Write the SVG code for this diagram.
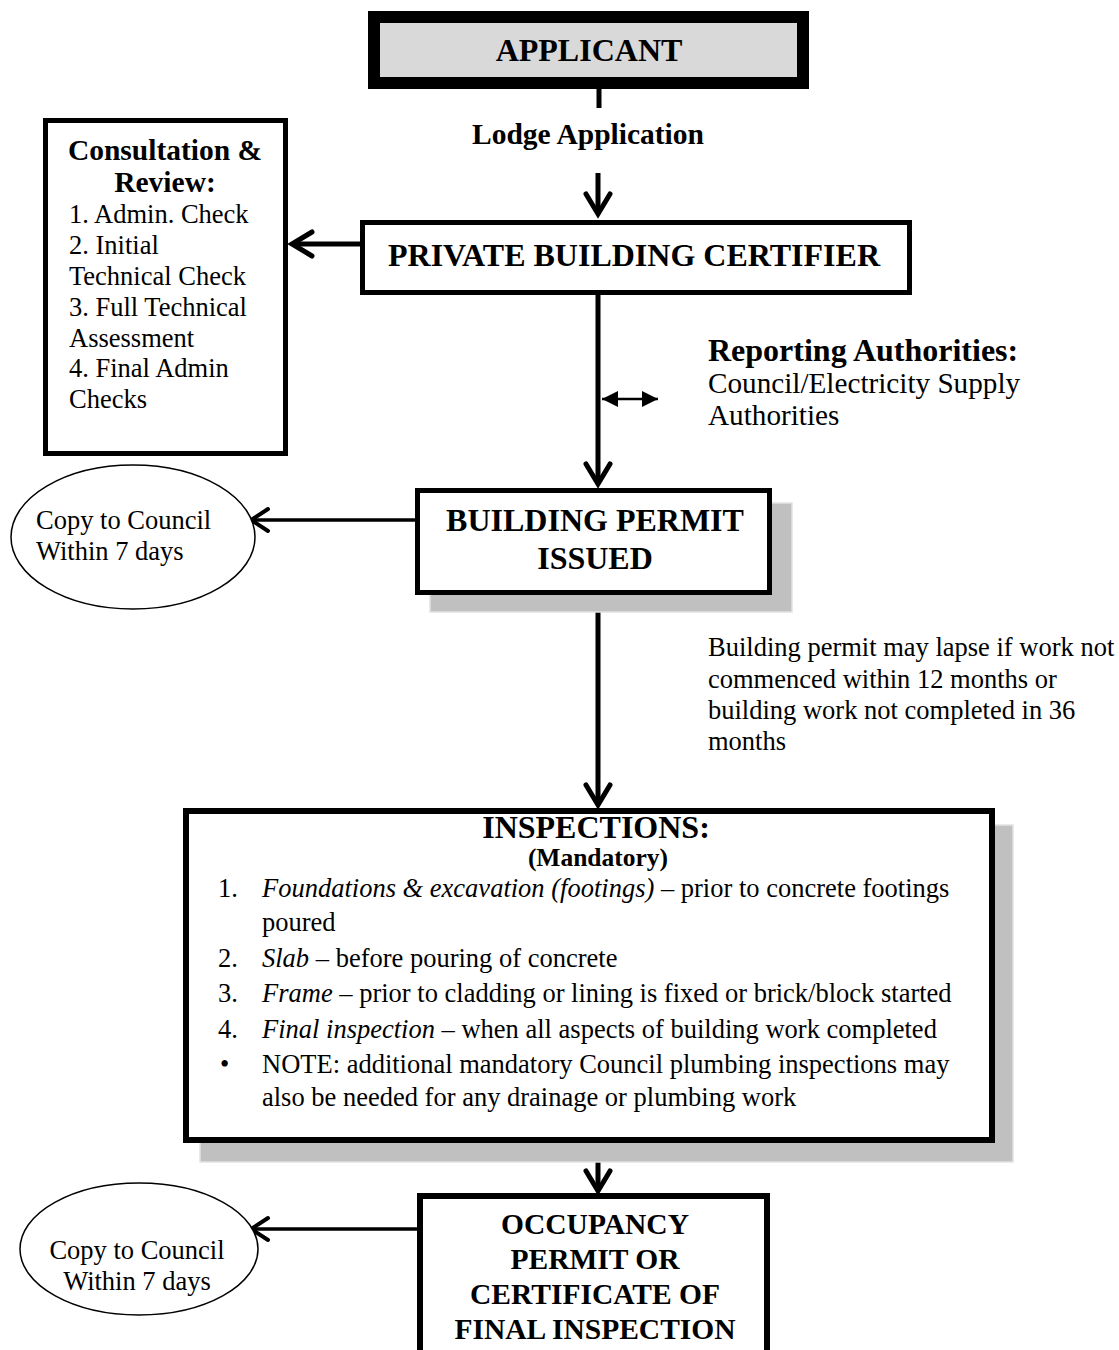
<svg xmlns="http://www.w3.org/2000/svg" width="1119" height="1350" viewBox="0 0 1119 1350">
  <style>
    text { font-family: "Liberation Serif", "Times New Roman", serif; fill: #000; }
    .h { font-weight: bold; font-size: 32px; }
    .ho { font-weight: bold; font-size: 29.5px; }
    .hm { font-weight: bold; font-size: 29.5px; }
    .hs { font-weight: bold; font-size: 25.5px; }
    .b { font-size: 26.5px; }
    .bl { font-size: 29.2px; }
    .c { text-anchor: middle; }
    .i { font-style: italic; }
    .box { fill: #fff; stroke: #000; }
    .shadow { fill: #c0c0c0; stroke: #e2e2e2; stroke-width: 1.5; }
    .oval { fill: #fff; stroke: #000; stroke-width: 1.5; }
    .wire { fill: none; stroke: #000; }
  </style>
  <defs>
    <marker id="chev" markerUnits="userSpaceOnUse" markerWidth="30" markerHeight="34" refX="23" refY="15" orient="auto" overflow="visible">
      <path d="M3,3 L23,15 L3,27" fill="none" stroke="#000" stroke-width="5" stroke-linejoin="miter" stroke-linecap="round"/>
    </marker>
    <marker id="chevs" markerUnits="userSpaceOnUse" markerWidth="30" markerHeight="34" refX="20" refY="13" orient="auto" overflow="visible">
      <path d="M3,2 L20,13 L3,24" fill="none" stroke="#000" stroke-width="4" stroke-linejoin="miter" stroke-linecap="round"/>
    </marker>
    <marker id="tri" markerUnits="userSpaceOnUse" markerWidth="18" markerHeight="16" refX="16" refY="8" orient="auto-start-reverse" overflow="visible">
      <path d="M0,0 L16,8 L0,16 Z" fill="#000"/>
    </marker>
  </defs>

  <!-- connectors -->
  <g id="connectors">
    <line class="wire" x1="599" y1="89" x2="599" y2="108" stroke-width="5"/>
    <line class="wire" x1="598" y1="173" x2="598" y2="214" stroke-width="5" marker-end="url(#chev)"/>
    <line class="wire" x1="360" y1="244" x2="292" y2="244" stroke-width="5" marker-end="url(#chev)"/>
    <line class="wire" x1="598" y1="295" x2="598" y2="484" stroke-width="5" marker-end="url(#chev)"/>
    <line class="wire" x1="602" y1="399" x2="658" y2="399" stroke-width="2.5" marker-start="url(#tri)" marker-end="url(#tri)"/>
    <line class="wire" x1="415" y1="520" x2="251" y2="520" stroke-width="3.5" marker-end="url(#chevs)"/>
    <line class="wire" x1="598" y1="593" x2="598" y2="805" stroke-width="5" marker-end="url(#chev)"/>
    <line class="wire" x1="598" y1="1143" x2="598" y2="1191" stroke-width="5" marker-end="url(#chev)"/>
    <line class="wire" x1="417" y1="1229" x2="251" y2="1229" stroke-width="3.5" marker-end="url(#chevs)"/>
  </g>

  <!-- applicant -->
  <g id="applicant">
    <rect x="374" y="17" width="429" height="66" fill="#d9d9d9" stroke="#000" stroke-width="12"/>
    <text class="h c" x="589" y="61">APPLICANT</text>
  </g>

  <g id="lodge-label">
    <text class="hm c" x="588" y="144">Lodge Application</text>
  </g>

  <!-- consultation & review -->
  <g id="consultation">
    <rect class="box" x="45.5" y="120.5" width="240" height="333" stroke-width="5"/>
    <text class="hm c" x="165" y="160">Consultation &amp;</text>
    <text class="hm c" x="165" y="192">Review:</text>
    <text class="b" x="69" y="223">1. Admin. Check</text>
    <text class="b" x="69" y="254">2. Initial</text>
    <text class="b" x="69" y="285">Technical Check</text>
    <text class="b" x="69" y="316">3. Full Technical</text>
    <text class="b" x="69" y="347">Assessment</text>
    <text class="b" x="69" y="377">4. Final Admin</text>
    <text class="b" x="69" y="408">Checks</text>
  </g>

  <!-- private building certifier -->
  <g id="certifier">
    <rect class="box" x="362.5" y="222.5" width="547" height="70" stroke-width="5"/>
    <text class="h c" x="634" y="266">PRIVATE BUILDING CERTIFIER</text>
  </g>

  <!-- reporting authorities -->
  <g id="reporting">
    <text class="h" x="708" y="361">Reporting Authorities:</text>
    <text class="bl" x="708" y="393">Council/Electricity Supply</text>
    <text class="bl" x="708" y="425">Authorities</text>
  </g>

  <!-- building permit issued -->
  <g id="permit">
    <rect class="shadow" x="430" y="503" width="362" height="109"/>
    <rect class="box" x="417.5" y="490.5" width="352" height="102" stroke-width="5"/>
    <text class="h c" x="595" y="531">BUILDING PERMIT</text>
    <text class="h c" x="595" y="569">ISSUED</text>
  </g>

  <!-- copy to council (permit) -->
  <g id="copy-permit">
    <ellipse class="oval" cx="133" cy="537" rx="122" ry="72"/>
    <text class="b" x="36" y="529">Copy to Council</text>
    <text class="b" x="36" y="560">Within 7 days</text>
  </g>

  <!-- lapse note -->
  <g id="lapse-note">
    <text class="b" x="708" y="656">Building permit may lapse if work not</text>
    <text class="b" x="708" y="688">commenced within 12 months or</text>
    <text class="b" x="708" y="719">building work not completed in 36</text>
    <text class="b" x="708" y="750">months</text>
  </g>

  <!-- inspections -->
  <g id="inspections">
    <rect class="shadow" x="200" y="825" width="813" height="337"/>
    <rect class="box" x="186" y="811" width="806" height="329" stroke-width="6"/>
    <text class="h c" x="596" y="838">INSPECTIONS:</text>
    <text class="hs c" x="598" y="866">(Mandatory)</text>
    <text class="b" x="218" y="897">1.</text>
    <text class="b" x="262" y="897"><tspan class="i">Foundations &amp; excavation (footings)</tspan> – prior to concrete footings</text>
    <text class="b" x="262" y="931">poured</text>
    <text class="b" x="218" y="967">2.</text>
    <text class="b" x="262" y="967"><tspan class="i">Slab</tspan> – before pouring of concrete</text>
    <text class="b" x="218" y="1002">3.</text>
    <text class="b" x="262" y="1002"><tspan class="i">Frame</tspan> – prior to cladding or lining is fixed or brick/block started</text>
    <text class="b" x="218" y="1038">4.</text>
    <text class="b" x="262" y="1038"><tspan class="i">Final inspection</tspan> – when all aspects of building work completed</text>
    <text class="b" x="220" y="1073">•</text>
    <text class="b" x="262" y="1073">NOTE: additional mandatory Council plumbing inspections may</text>
    <text class="b" x="262" y="1106">also be needed for any drainage or plumbing work</text>
  </g>

  <!-- occupancy permit -->
  <g id="occupancy">
    <rect class="box" x="420" y="1196" width="347" height="170" stroke-width="6"/>
    <text class="ho c" x="595" y="1234">OCCUPANCY</text>
    <text class="ho c" x="595" y="1269">PERMIT OR</text>
    <text class="ho c" x="595" y="1304">CERTIFICATE OF</text>
    <text class="ho c" x="595" y="1339">FINAL INSPECTION</text>
  </g>

  <!-- copy to council (occupancy) -->
  <g id="copy-occupancy">
    <ellipse class="oval" cx="139" cy="1249" rx="119" ry="66"/>
    <text class="b c" x="137" y="1259">Copy to Council</text>
    <text class="b c" x="137" y="1290">Within 7 days</text>
  </g>
</svg>
